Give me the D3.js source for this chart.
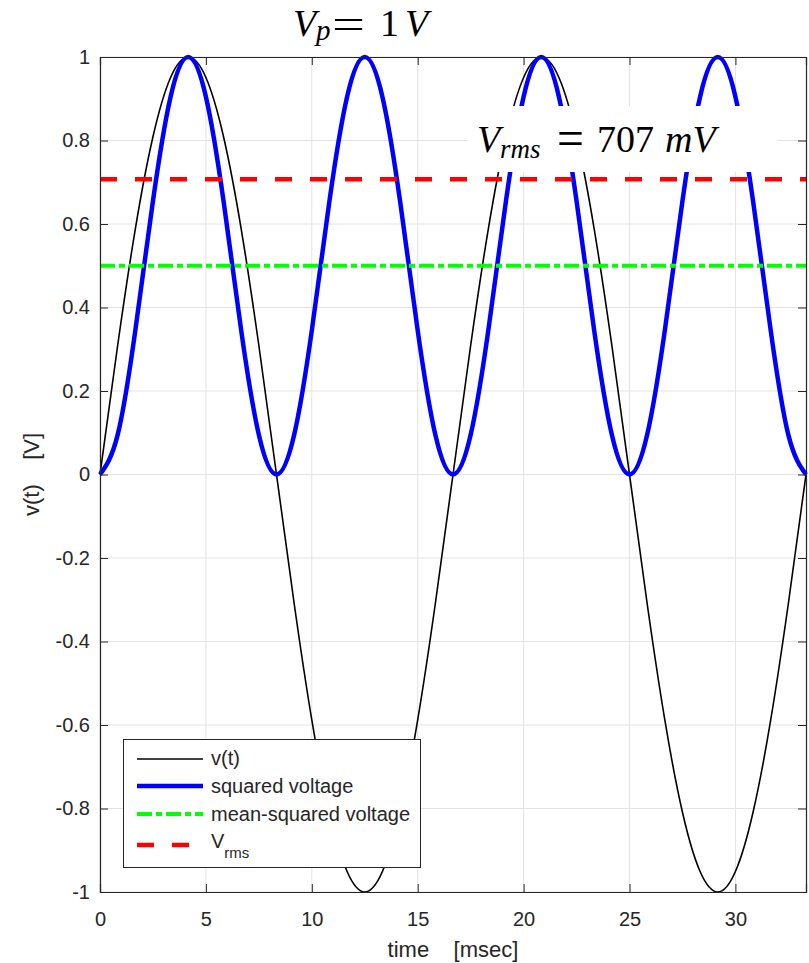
<!DOCTYPE html>
<html>
<head>
<meta charset="utf-8">
<script src="https://cdn.jsdelivr.net/npm/d3@7"></script>
<style>
  html, body { margin: 0; padding: 0; background: #fff; }
  svg { display: block; }
  text { white-space: pre; }
</style>
</head>
<body>
<div id="chart"></div>
<script>
// sampled every 1/20 of a period (60 Hz -> 16.67 ms)
var timeMs = [0, 0.833, 1.667, 2.5, 3.333, 4.167, 5, 5.833, 6.667, 7.5, 8.333,
  9.167, 10, 10.833, 11.667, 12.5, 13.333, 14.167, 15, 15.833, 16.667,
  17.5, 18.333, 19.167, 20, 20.833, 21.667, 22.5, 23.333, 24.167, 25,
  25.833, 26.667, 27.5, 28.333, 29.167, 30, 30.833, 31.667, 32.5, 33.333];
var voltage = [0, 0.309, 0.588, 0.809, 0.951, 1, 0.951, 0.809, 0.588, 0.309, 0,
  -0.309, -0.588, -0.809, -0.951, -1, -0.951, -0.809, -0.588, -0.309, 0,
  0.309, 0.588, 0.809, 0.951, 1, 0.951, 0.809, 0.588, 0.309, 0,
  -0.309, -0.588, -0.809, -0.951, -1, -0.951, -0.809, -0.588, -0.309, 0];
var squared = [0, 0.095, 0.345, 0.655, 0.905, 1, 0.905, 0.655, 0.345, 0.095, 0,
  0.095, 0.345, 0.655, 0.905, 1, 0.905, 0.655, 0.345, 0.095, 0,
  0.095, 0.345, 0.655, 0.905, 1, 0.905, 0.655, 0.345, 0.095, 0,
  0.095, 0.345, 0.655, 0.905, 1, 0.905, 0.655, 0.345, 0.095, 0];
var meanSquared = 0.5;
var vrms = 0.707;
var xTicks = [0, 5, 10, 15, 20, 25, 30];
var yTicks = [-1, -0.8, -0.6, -0.4, -0.2, 0, 0.2, 0.4, 0.6, 0.8, 1];
var legendLabels = ["v(t)", "squared voltage", "mean-squared voltage", "V"];

var width = 809, height = 963;
var margin = {left: 100, right: 3, top: 57, bottom: 71};
var axisColor = "#262626";

var svg = d3.select("#chart").append("svg")
    .attr("width", width)
    .attr("height", height);

var x = d3.scaleLinear().domain([0, 33.333]).range([margin.left, width - margin.right]);
var y = d3.scaleLinear().domain([-1, 1]).range([height - margin.bottom, margin.top]);

var x0 = x.range()[0], x1 = x.range()[1], y0 = y.range()[0], y1 = y.range()[1];

/* ------- GRID -------*/
var grid = svg.append("g").attr("class", "grid");
grid.selectAll("line.gx").data(xTicks).enter().append("line")
    .attr("x1", function (d) { return x(d); })
    .attr("x2", function (d) { return x(d); })
    .attr("y1", y0).attr("y2", y1)
    .attr("stroke", "#e3e3e3").attr("stroke-width", 1);
grid.selectAll("line.gy").data(yTicks).enter().append("line")
    .attr("y1", function (d) { return y(d); })
    .attr("y2", function (d) { return y(d); })
    .attr("x1", x0).attr("x2", x1)
    .attr("stroke", "#e3e3e3").attr("stroke-width", 1);

/* ------- CURVES -------*/
var pts = function (vals) { return vals.map(function (v, i) { return [timeMs[i], v]; }); };
var line = d3.line()
    .x(function (d) { return x(d[0]); })
    .y(function (d) { return y(d[1]); })
    .curve(d3.curveNatural);

var plot = svg.append("g").attr("class", "plot");
plot.append("path")
    .attr("d", line(pts(voltage)))
    .attr("fill", "none").attr("stroke", "#000").attr("stroke-width", 1.6);
plot.append("path")
    .attr("d", line(pts(squared)))
    .attr("fill", "none").attr("stroke", "#0000ff").attr("stroke-width", 4.5);
plot.append("line")
    .attr("x1", x0).attr("x2", x1)
    .attr("y1", y(meanSquared)).attr("y2", y(meanSquared))
    .attr("stroke", "#00ff00").attr("stroke-width", 4)
    .attr("stroke-dasharray", "15,4,6,4");
plot.append("line")
    .attr("x1", x0).attr("x2", x1)
    .attr("y1", y(vrms)).attr("y2", y(vrms))
    .attr("stroke", "#ff0000").attr("stroke-width", 4.5)
    .attr("stroke-dasharray", "17,18");

/* ------- AXES -------*/
var tickFont = "Liberation Sans, Arial, sans-serif";
var xAxis = d3.axisBottom(x).tickValues(xTicks).tickSize(-8).tickPadding(20).tickFormat(d3.format("d"));
var yAxis = d3.axisLeft(y).tickValues(yTicks).tickSize(-8).tickPadding(10).tickFormat(function (d) { return d === 0 ? "0" : d3.format("")(d).replace("−", "-"); });
var xTop = d3.axisTop(x).tickValues(xTicks).tickSize(-8).tickFormat("");
var yRight = d3.axisRight(y).tickValues(yTicks).tickSize(-8).tickFormat("");

function style(g) {
  g.select(".domain").attr("stroke", axisColor).attr("stroke-width", 1.2);
  g.selectAll(".tick line").attr("stroke", axisColor).attr("stroke-width", 1);
  g.selectAll(".tick text").attr("fill", axisColor)
      .attr("font-family", tickFont).attr("font-size", 20);
  g.attr("font-family", tickFont);
}
svg.append("g").attr("transform", "translate(0," + y0 + ")").call(xAxis).call(style);
svg.append("g").attr("transform", "translate(" + x0 + ",0)").call(yAxis).call(style);
svg.append("g").attr("transform", "translate(0," + y1 + ")").call(xTop).call(style);
svg.append("g").attr("transform", "translate(" + x1 + ",0)").call(yRight).call(style);

/* ------- AXIS LABELS -------*/
svg.append("text")
    .attr("x", (x0 + x1) / 2).attr("y", 957)
    .attr("text-anchor", "middle")
    .attr("font-family", tickFont).attr("font-size", 22).attr("fill", axisColor)
    .text("time    [msec]");
svg.append("text")
    .attr("transform", "translate(39," + y(0) + ") rotate(-90)")
    .attr("text-anchor", "middle")
    .attr("font-family", tickFont).attr("font-size", 22).attr("fill", axisColor)
    .text("v(t)    [V]");

/* ------- MATH ANNOTATIONS -------*/
var mathFont = "Liberation Serif, DejaVu Serif, serif";
function mathText(parts, baseY) {
  var g = svg.append("g").attr("class", "math");
  parts.forEach(function (p) {
    var t = g.append("text")
        .attr("x", p.x)
        .attr("y", baseY + (p.dy || 0))
        .attr("font-family", mathFont).attr("fill", "#000")
        .attr("font-size", p.size)
        .attr("font-style", p.italic ? "italic" : "normal")
        .text(p.text);
    if (p.len) t.attr("textLength", p.len).attr("lengthAdjust", "spacingAndGlyphs");
  });
  return g;
}

mathText([
  {text: "V", x: 293, size: 38, italic: true},
  {text: "p", x: 316, size: 29, italic: true, dy: 4},
  {text: "=", x: 332, size: 42, len: 33, dy: 2},
  {text: "1", x: 380, size: 38},
  {text: "V", x: 405, size: 38, italic: true}
], 36);

svg.append("rect")
    .attr("x", 468).attr("y", 106)
    .attr("width", 310).attr("height", 66)
    .attr("fill", "#fff");
mathText([
  {text: "V", x: 477, size: 38, italic: true},
  {text: "rms", x: 500, size: 27, italic: true, dy: 6},
  {text: "=", x: 557, size: 52, len: 27, dy: 4},
  {text: "707", x: 597, size: 38},
  {text: "mV", x: 665, size: 38, italic: true}
], 152);

/* ------- LEGEND -------*/
var legend = svg.append("g").attr("class", "legend");
legend.append("rect")
    .attr("x", 123.5).attr("y", 739.5)
    .attr("width", 297).attr("height", 128)
    .attr("fill", "#fff").attr("stroke", axisColor).attr("stroke-width", 1);
var legendRows = [
  {lineY: 759, textY: 765, stroke: "#000", w: 1.6, dash: null},
  {lineY: 786, textY: 793, stroke: "#0000ff", w: 4.5, dash: null},
  {lineY: 814, textY: 821, stroke: "#00ff00", w: 4, dash: "15,4,6,4"},
  {lineY: 845, textY: 848, stroke: "#ff0000", w: 4.5, dash: "17,18"}
];
legendRows.forEach(function (r, i) {
  legend.append("line")
      .attr("x1", 137).attr("x2", 203)
      .attr("y1", r.lineY).attr("y2", r.lineY)
      .attr("stroke", r.stroke).attr("stroke-width", r.w)
      .attr("stroke-dasharray", r.dash);
  var t = legend.append("text")
      .attr("x", 211).attr("y", r.textY)
      .attr("font-family", tickFont).attr("font-size", 20).attr("fill", axisColor)
      .text(legendLabels[i]);
  if (i === 3) {
    t.append("tspan").attr("font-size", 15).attr("dy", 10).text("rms");
  }
});
</script>
</body>
</html>
